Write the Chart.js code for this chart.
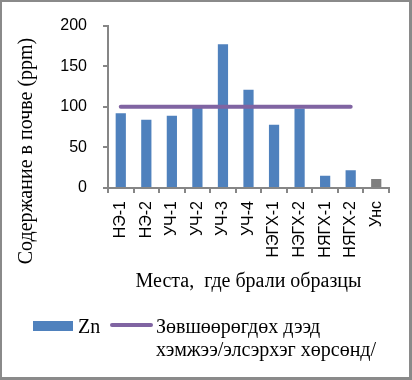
<!DOCTYPE html>
<html>
<head>
<meta charset="utf-8">
<script src="https://cdn.jsdelivr.net/npm/chart.js@4"></script>
<style>
  html, body { margin: 0; padding: 0; background: #fff; }
  #wrap { position: relative; width: 412px; height: 380px; overflow: hidden; }
  #c { position: absolute; left: 0; top: 0; }
  #frame { position: absolute; left: 0; top: 0; width: 412px; height: 380px; box-sizing: border-box;
           border-top: 2px solid #8a8a8a; border-left: 2px solid #8a8a8a;
           border-right: 3px solid #8a8a8a; border-bottom: 3px solid #8a8a8a; pointer-events: none; }
  .lg { position: absolute; font-family: "Liberation Serif", "Times New Roman", serif; font-size: 20px;
        line-height: 23px; color: #000; white-space: nowrap; }
  .sw-bar { position: absolute; left: 33px; top: 321px; width: 40px; height: 10px; background: #4F81BD; }
  .sw-line { position: absolute; left: 110px; top: 323px; width: 43px; height: 4px; background: #8064A2; border-radius: 2px; }
</style>
</head>
<body>
<div id="wrap">
  <canvas id="c" width="412" height="380"></canvas>
  <div class="sw-bar"></div>
  <div class="lg" style="left:78px; top:315px;">Zn</div>
  <div class="sw-line"></div>
  <div class="lg" style="left:156px; top:315px;">Зөвшөөрөгдөх дээд<br>хэмжээ/элсэрхэг хөрсөнд/</div>
  <div id="frame"></div>
</div>
<script>
const categories = ["НЭ-1", "НЭ-2", "УЧ-1", "УЧ-2", "УЧ-3", "УЧ-4", "НЭГХ-1", "НЭГХ-2", "НЯГХ-1", "НЯГХ-2", "Унс"];
const znValues = [92, 84, 89, 99, 177, 121, 78, 98, 15, 22, 11];
const limitValues = [100, 100, 100, 100, 100, 100, 100, 100, 100, 100, null];
const yTicks = [0, 50, 100, 150, 200];
const yTitle = "Содержание в почве (ppm)";
const xTitle = "Места,  где брали образцы";

const barColors = categories.map((c, i) => i === categories.length - 1 ? "#7F7F7F" : "#4F81BD");
const axisColor = "#868686";

const yTitlePlugin = {
  id: "yTitle",
  afterDraw(chart) {
    const ctx = chart.ctx;
    ctx.save();
    ctx.translate(27, 151);
    ctx.rotate(-Math.PI / 2);
    ctx.font = '20px "Liberation Serif"';
    ctx.fillStyle = "#000";
    ctx.textAlign = "center";
    ctx.textBaseline = "middle";
    ctx.fillText(yTitle, 0, 0);
    ctx.restore();
  }
};

new Chart(document.getElementById("c"), {
  type: "bar",
  data: {
    labels: categories,
    datasets: [
      {
        type: "line",
        label: "Зөвшөөрөгдөх дээд хэмжээ/элсэрхэг хөрсөнд/",
        data: limitValues,
        borderColor: "#8064A2",
        backgroundColor: "#8064A2",
        borderWidth: 4,
        borderCapStyle: "round",
        pointRadius: 0,
        fill: false,
        order: 0
      },
      {
        type: "bar",
        label: "Zn",
        data: znValues,
        backgroundColor: barColors,
        categoryPercentage: 1,
        barPercentage: 0.4,
        order: 1
      }
    ]
  },
  options: {
    responsive: false,
    animation: false,
    events: [],
    layout: { padding: { top: 24, right: 23, bottom: 80, left: 0 } },
    plugins: { legend: { display: false }, tooltip: { enabled: false } },
    scales: {
      x: {
        offset: true,
        grid: { display: true, offset: true, drawOnChartArea: false, drawTicks: true, tickLength: 5, color: axisColor, lineWidth: 2 },
        border: { display: true, color: axisColor, width: 2 },
        ticks: { minRotation: 90, maxRotation: 90, autoSkip: false, padding: 8, color: "#000",
                 font: { family: "Liberation Sans", size: 16 } },
        title: { display: true, text: xTitle, color: "#000", padding: { top: 0, bottom: 6 },
                 font: { family: "Liberation Serif", size: 20, lineHeight: 1.2 } },
        afterFit(scale) { scale.height = 112; }
      },
      y: {
        min: 0, max: 200,
        afterBuildTicks(scale) { scale.ticks = yTicks.map(v => ({ value: v })); },
        grid: { display: true, drawOnChartArea: false, drawTicks: true, tickLength: 5, color: axisColor, lineWidth: 2 },
        border: { display: true, color: axisColor, width: 2 },
        ticks: { padding: 16, color: "#000", font: { family: "Liberation Sans", size: 16 } },
        afterFit(scale) { scale.width = 108; }
      }
    }
  },
  plugins: [yTitlePlugin]
});
</script>
</body>
</html>
